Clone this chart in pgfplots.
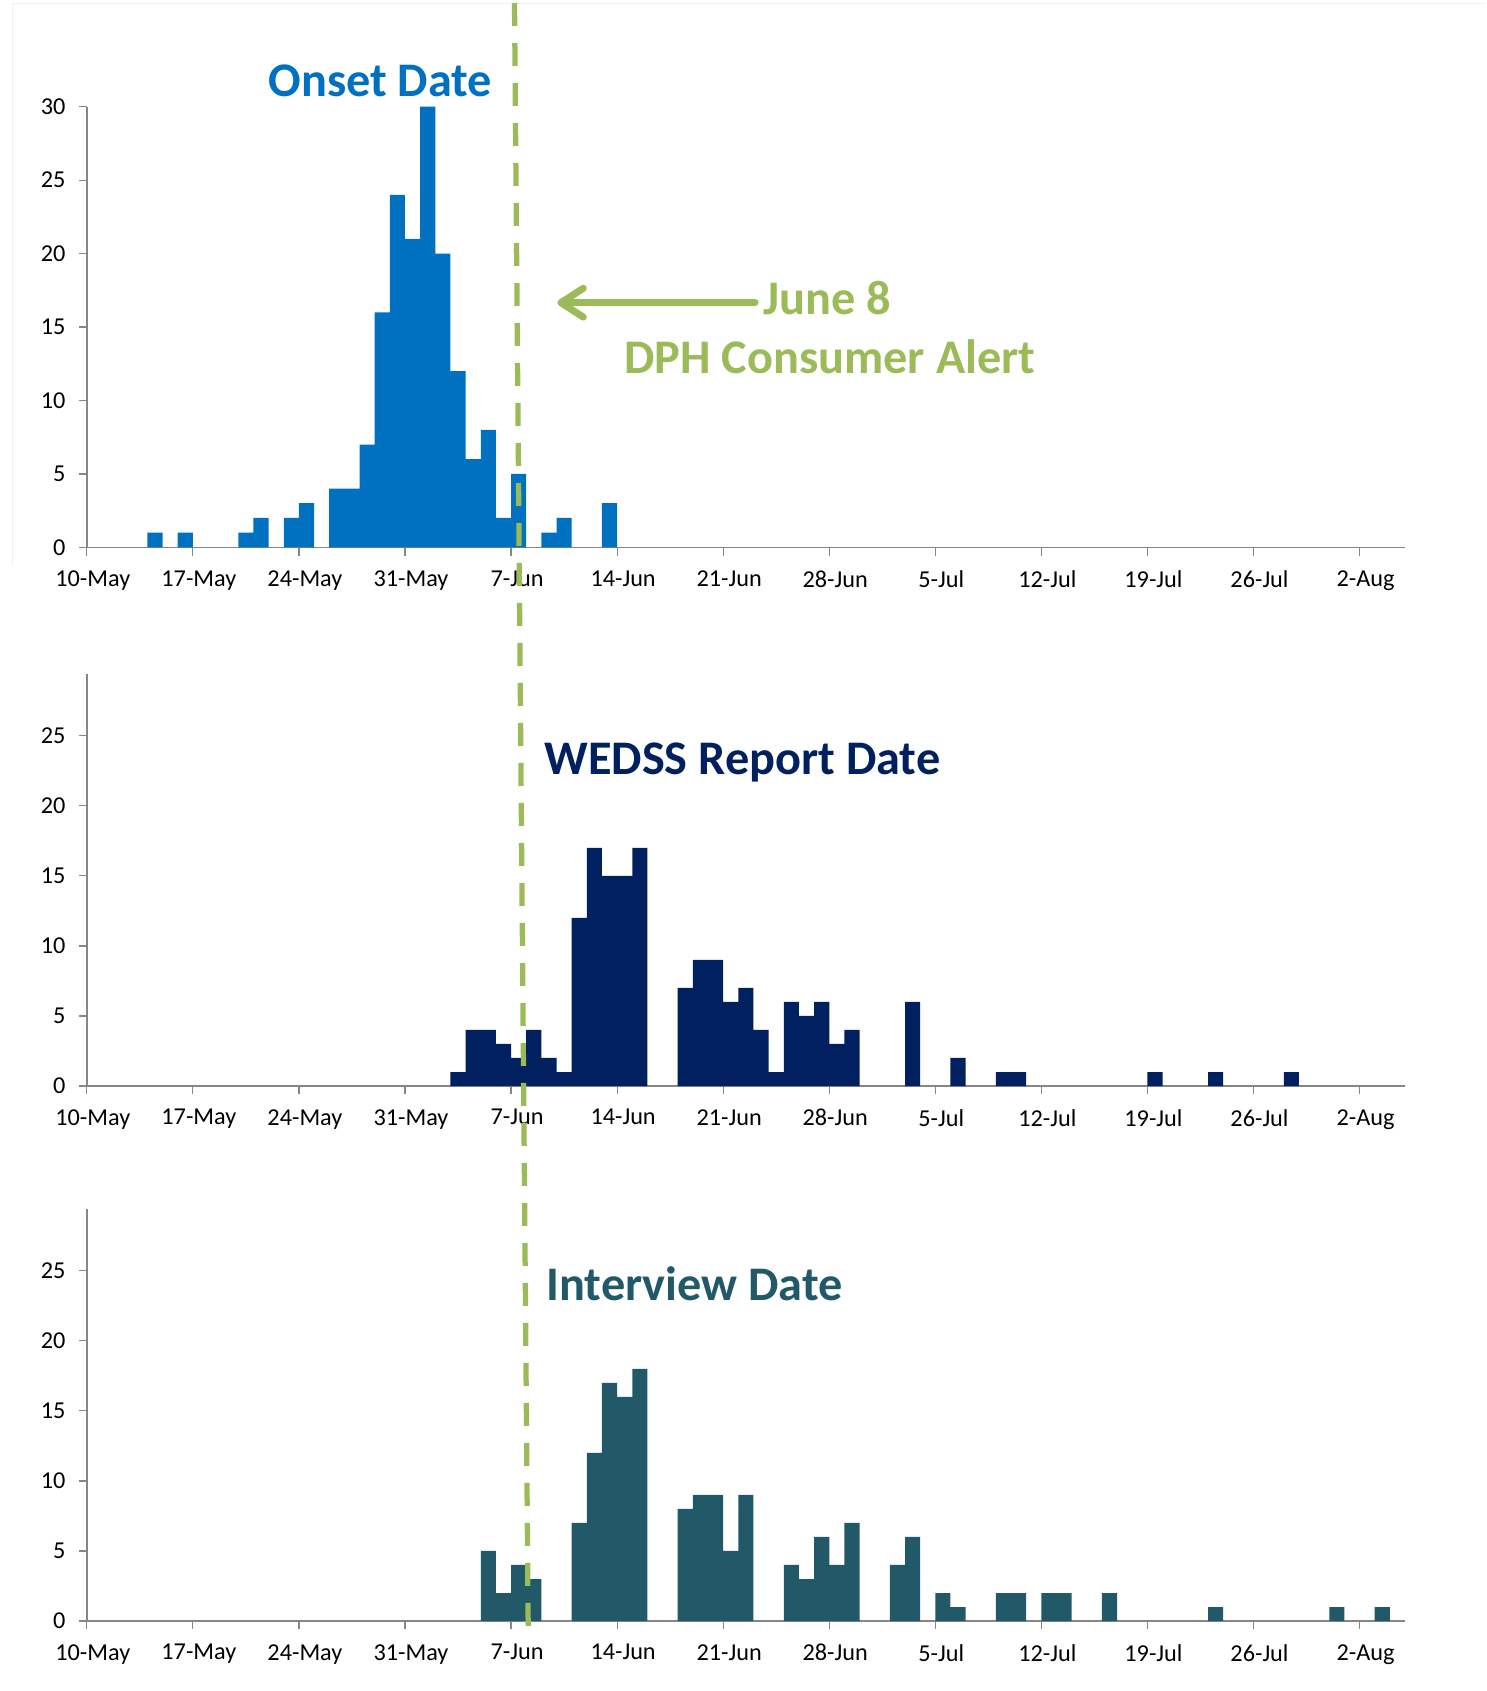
\documentclass[border=0pt]{standalone}
\usepackage{fontspec}
\setmainfont{Carlito}
\usepackage{pgfplots}
\pgfplotsset{compat=1.18}
\definecolor{onset}{HTML}{0070C0}
\definecolor{wedss}{HTML}{002060}
\definecolor{interv}{HTML}{215968}
\definecolor{alert}{HTML}{9BBB59}
\definecolor{axgray}{HTML}{868686}
\pgfplotsset{
  epibase/.style={
    scale only axis, width=527.28pt,
    xmin=0, xmax=87, ymin=0,
    axis x line*=bottom, axis y line*=left,
    axis line style={-, draw=axgray, line width=0.6pt},
    xtick={0,7,...,84},
    xticklabels={10-May,17-May,24-May,31-May,7-Jun,14-Jun,21-Jun,28-Jun,5-Jul,12-Jul,19-Jul,26-Jul,2-Aug},
    tick align=outside, major tick length=3.3pt,
    tick style={draw=axgray, line width=0.5pt},
    ticklabel style={font=\fontsize{9.7}{11}\selectfont, text=black},
    /pgf/number format/assume math mode=true,
    xticklabel style={xshift=2.4pt, yshift=-2.5pt},
    yticklabel style={xshift=-1.7pt},
    ybar, bar width=1, bar shift=0,
  }
}
\begin{document}
\begin{tikzpicture}
\begin{scope}[x=0.4pt,y=-0.4pt]
\path[use as bounding box] (0,0) rectangle (1486,1691);
\draw[gray!12, line width=0.4pt] (12,566) -- (12,4) -- (1486,4);
\end{scope}

% Panel 1: Onset Date
\begin{axis}[epibase, at={(34.72pt,-218.92pt)}, anchor=origin, height=176.24pt,
  ymax=30, ytick={0,5,...,30}]
\addplot[fill=onset, draw=none] coordinates {
(4.5,1) (6.5,1) (10.5,1) (11.5,2) (13.5,2) (14.5,3) (16.5,4) (17.5,4)
(18.5,7) (19.5,16) (20.5,24) (21.5,21) (22.5,30) (23.5,20) (24.5,12)
(25.5,6) (26.5,8) (27.5,2) (28.5,5) (30.5,1) (31.5,2) (34.5,3)};
\end{axis}

% Panel 2: WEDSS Report Date
\begin{axis}[epibase, at={(34.72pt,-434.4pt)}, anchor=origin, height=164.8pt,
  ymax=29.4, ytick={0,5,...,25}]
\addplot[fill=wedss, draw=none] coordinates {
(24.5,1) (25.5,4) (26.5,4) (27.5,3) (28.5,2) (29.5,4) (30.5,2) (31.5,1)
(32.5,12) (33.5,17) (34.5,15) (35.5,15) (36.5,17)
(39.5,7) (40.5,9) (41.5,9) (42.5,6) (43.5,7) (44.5,4) (45.5,1)
(46.5,6) (47.5,5) (48.5,6) (49.5,3) (50.5,4)
(54.5,6) (57.5,2) (60.5,1) (61.5,1) (70.5,1) (74.5,1) (79.5,1)};
\end{axis}

% Panel 3: Interview Date
\begin{axis}[epibase, at={(34.72pt,-648.4pt)}, anchor=origin, height=164.8pt,
  ymax=29.4, ytick={0,5,...,25}]
\addplot[fill=interv, draw=none] coordinates {
(26.5,5) (27.5,2) (28.5,4) (29.5,3)
(32.5,7) (33.5,12) (34.5,17) (35.5,16) (36.5,18)
(39.5,8) (40.5,9) (41.5,9) (42.5,5) (43.5,9)
(46.5,4) (47.5,3) (48.5,6) (49.5,4) (50.5,7)
(53.5,4) (54.5,6) (56.5,2) (57.5,1) (60.5,2) (61.5,2) (63.5,2) (64.5,2)
(67.5,2) (74.5,1) (82.5,1) (85.5,1)};
\end{axis}

\begin{scope}[x=0.4pt,y=-0.4pt]
% June 8 line and annotations
\draw[alert, line width=2.1pt, dash pattern=on 9.2pt off 6.8pt] (514.5,3) -- (528.2,1628);
\draw[alert, line width=2.8pt, line cap=round, line join=round] (755,302.7) -- (561,302.7);
\draw[alert, line width=2.8pt, line cap=round, line join=round] (583.3,288.3) -- (561,302.7) -- (583.3,317.1);

\node[anchor=base west, inner sep=0pt, text=onset, font=\bfseries\fontsize{19.3}{23}\selectfont] at (268,96.5) {Onset Date};
\node[anchor=base west, inner sep=0pt, text=alert, font=\bfseries\fontsize{19.3}{23}\selectfont] at (762.7,315) {June 8};
\node[anchor=base west, inner sep=0pt, text=alert, font=\bfseries\fontsize{19.3}{23}\selectfont] at (624,373.3) {DPH Consumer Alert};
\node[anchor=base west, inner sep=0pt, text=wedss, font=\bfseries\fontsize{19.3}{23}\selectfont] at (544,774.5) {WEDSS Report Date};
\node[anchor=base west, inner sep=0pt, text=interv, font=\bfseries\fontsize{19.3}{23}\selectfont] at (546,1300) {Interview Date};
\end{scope}
\end{tikzpicture}
\end{document}
